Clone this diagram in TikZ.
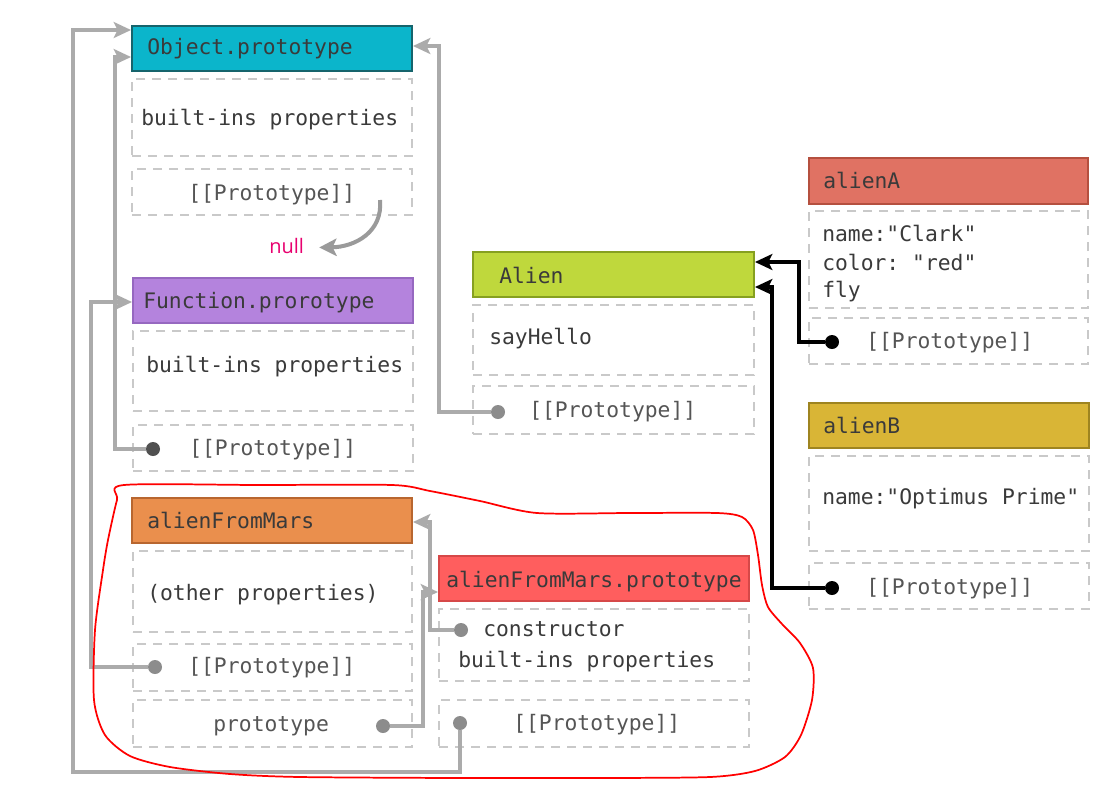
\documentclass[tikz,border=0pt]{standalone}
\usepackage{fontspec}
\setmonofont{DejaVu Sans Mono}
\newfontfamily\nulltxtfont{Open Sans}
\usetikzlibrary{arrows.meta,calc}
\definecolor{objfill}{HTML}{0BB5CB}\definecolor{objdraw}{HTML}{16646C}
\definecolor{fnfill}{HTML}{B483DD}\definecolor{fndraw}{HTML}{9668C0}
\definecolor{afmfill}{HTML}{EA8F4D}\definecolor{afmdraw}{HTML}{B8662F}
\definecolor{afpfill}{HTML}{FF5E5E}\definecolor{afpdraw}{HTML}{D64848}
\definecolor{alfill}{HTML}{BFD83C}\definecolor{aldraw}{HTML}{86A020}
\definecolor{afill}{HTML}{E07263}\definecolor{adraw}{HTML}{B5503F}
\definecolor{bfill}{HTML}{D9B536}\definecolor{bdraw}{HTML}{9E8420}
\definecolor{dashgray}{HTML}{C9C9C9}
\definecolor{conngray}{HTML}{ABABAB}
\definecolor{txtgray}{HTML}{3A3A3A}
\definecolor{protogray}{HTML}{555555}
\definecolor{dotgray}{HTML}{8C8C8C}
\definecolor{dotdark}{HTML}{505050}
\definecolor{nullpink}{HTML}{E8006F}
\begin{document}
\begin{tikzpicture}[x=0.75pt,y=-0.75pt,
  sz/.style 2 args={minimum width=#1*0.75pt,minimum height=#2*0.75pt},
  hdr/.style={anchor=north west,inner sep=0,line width=1.5pt},
  dbox/.style={anchor=north west,inner sep=0,draw=dashgray,line width=1.6pt,dash pattern=on 7pt off 5pt},
  txt/.style={anchor=base west,inner sep=0,font=\ttfamily\fontsize{16}{18}\selectfont,text=txtgray},
  ptxt/.style={txt,text=protogray},
  dot/.style={circle,fill=dotgray,inner sep=0,minimum size=10.5pt},
  gconn/.style={draw=conngray,line width=2.3pt,-{Stealth[length=13pt,width=12pt,inset=3pt]}},
  bconn/.style={draw=black,line width=2.3pt,-{Stealth[length=13pt,width=12pt,inset=3pt]}},
]
\useasboundingbox[fill=white] (0,0) rectangle (1120,800);

% Object.prototype
\node[hdr,fill=objfill,draw=objdraw,sz={280}{45}] (obj) at (131,25) {};
\node[txt] (objt) at (147,54) {Object.prototype};
\node[dbox,sz={280}{77}] (objb) at (131,78) {};
\node[txt] (objbt) at (141,125) {built-ins properties};
\node[dbox,sz={280}{46}] (objp) at (131,168) {};
\node[ptxt] (objpt) at (188,200) {[[Prototype]]};

% null
\coordinate (ns) at (380,200);
\node[anchor=base west,inner sep=0,font=\nulltxtfont\fontsize{15}{18}\selectfont,text=nullpink] (null) at (269,253) {null};
\draw[draw=conngray!90!black,line width=3pt,-{Stealth[length=13pt,width=13pt,inset=3pt]}] (ns) .. controls (383,232) and (355,247) .. ($(null.east)+(15,2)$);

% Function.prototype
\node[hdr,fill=fnfill,draw=fndraw,sz={280}{45}] (fn) at (132,277) {};
\node[txt] (fnt) at (143,308) {Function.prorotype};
\node[dbox,sz={280}{80}] (fnb) at (132,330) {};
\node[txt] (fnbt) at (146,372) {built-ins properties};
\node[dbox,sz={280}{46}] (fnp) at (132,424) {};
\node[ptxt] (fnpt) at (189,455) {[[Prototype]]};
\node[dot,fill=dotdark] (dfn) at (153,449) {};

% alienFromMars
\node[hdr,fill=afmfill,draw=afmdraw,sz={280}{45}] (afm) at (131,497) {};
\node[txt] (afmt) at (147,528) {alienFromMars};
\node[dbox,sz={279}{81}] (afmb) at (132,550) {};
\node[txt] (afmbt) at (147,600) {(other properties)};
\node[dbox,sz={279}{47}] (afmp) at (132,643) {};
\node[ptxt] (afmpt) at (188,673) {[[Prototype]]};
\node[dot] (dafm) at (155,667) {};
\node[dbox,sz={279}{47}] (afmr) at (132,699) {};
\node[ptxt] (afmrt) at (213,731) {prototype};
\node[dot] (dpr) at (383,726) {};

% alienFromMars.prototype
\node[hdr,fill=afpfill,draw=afpdraw,sz={310}{45}] (afp) at (438,555) {};
\node[txt] (afpt) at (446,587) {alienFromMars.prototype};
\node[dbox,sz={310}{72}] (afpb) at (438,608) {};
\node[txt] (afpbt1) at (483,636) {constructor};
\node[txt] (afpbt2) at (458,667) {built-ins properties};
\node[dot] (dcons) at (461,630) {};
\node[dbox,sz={310}{47}] (afpp) at (438,699) {};
\node[ptxt] (afppt) at (513,730) {[[Prototype]]};
\node[dot] (dafp) at (460,723) {};

% Alien
\node[hdr,fill=alfill,draw=aldraw,sz={281}{45}] (al) at (472,251) {};
\node[txt] (alt) at (499,283) {Alien};
\node[dbox,sz={281}{70}] (alb) at (472,304) {};
\node[txt] (albt) at (489,344) {sayHello};
\node[dbox,sz={281}{48}] (alp) at (472,385) {};
\node[ptxt] (alpt) at (529,417) {[[Prototype]]};
\node[dot] (dal) at (498,412) {};

% alienA
\node[hdr,fill=afill,draw=adraw,sz={279}{46}] (aA) at (808,157) {};
\node[txt] (aAt) at (823,188) {alienA};
\node[dbox,sz={279}{97}] (aAb) at (808,210) {};
\node[txt] (aAb1) at (822,241) {name:"Clark"};
\node[txt] (aAb2) at (822,270) {color: "red"};
\node[txt] (aAb3) at (822,297) {fly};
\node[dbox,sz={279}{46}] (aAp) at (808,317) {};
\node[ptxt] (aApt) at (866,348) {[[Prototype]]};
\node[dot,fill=black] (dA) at (832,342) {};

% alienB
\node[hdr,fill=bfill,draw=bdraw,sz={280}{45}] (aB) at (808,402) {};
\node[txt] (aBt) at (823,433) {alienB};
\node[dbox,sz={280}{95}] (aBb) at (808,455) {};
\node[txt] (aBb1) at (822,504) {name:"Optimus Prime"};
\node[dbox,sz={280}{46}] (aBp) at (808,562) {};
\node[ptxt] (aBpt) at (866,594) {[[Prototype]]};
\node[dot,fill=black] (dB) at (832,588) {};

% connectors
\draw[gconn] (dafp) -- (dafp |- 0,772) -| (73,30) -- (obj.west |- 0,30);
\draw[gconn] (dfn) -| (115,57) -- (obj.west |- 0,57);
\draw[gconn] (dal) -| (439,46) -- (obj.east |- 0,46);
\draw[gconn] (dafm) -| (91,302) -- (fn.west |- 0,302);
\draw[gconn] (dpr) -| (423,592) -- (afp.west |- 0,592);
\draw[gconn] (dcons) -| (430,522) -- (afm.east |- 0,522);
\draw[bconn] (dA) -| (799,262) -- (al.east |- 0,262);
\draw[bconn] (dB) -| (772,287) -- (al.east |- 0,287);

% red outline
\draw[red,line width=1.3pt] plot[smooth cycle,tension=0.45] coordinates {
 (124,485) (260,485) (392,485) (430,491) (480,501) (537,513) (630,513)
 (717,513) (742,517) (753,530) (758,555) (762,585) (768,607) (782,624)
 (800,643) (813,668) (812,700) (801,735) (785,757) (755,771) (710,777)
 (600,778) (460,778) (300,777) (230,774) (170,767) (130,756) (105,735)
 (94,700) (95,630) (103,570) (108,540) (117,500)};
\end{tikzpicture}
\end{document}
